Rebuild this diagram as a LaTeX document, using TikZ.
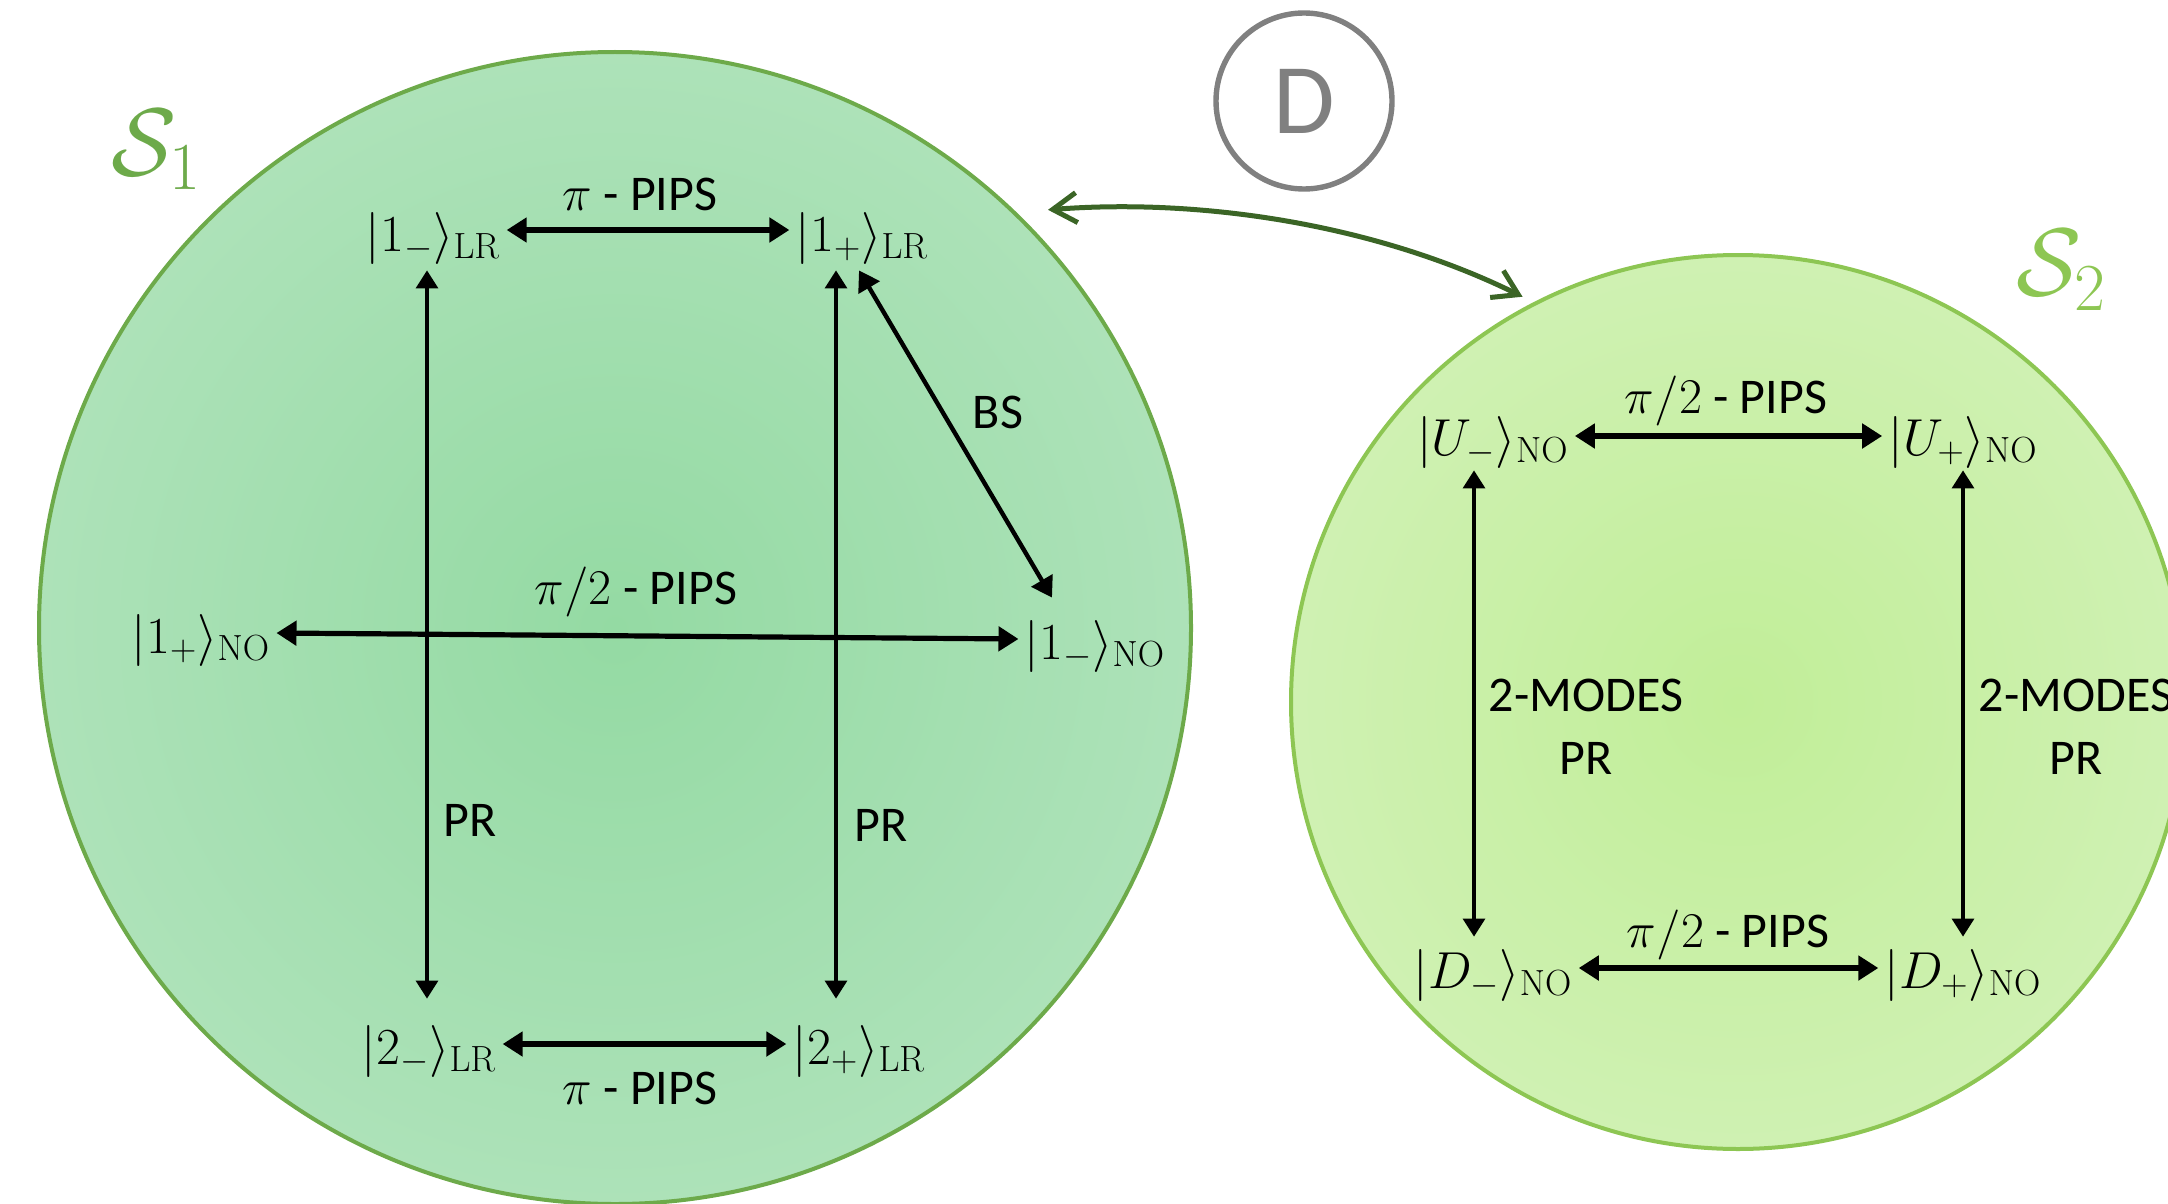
\RequirePackage{fix-cm}
\documentclass[tikz,border=0pt]{standalone}
\usepackage[no-math]{fontspec}
\setmainfont{Carlito}
\usetikzlibrary{arrows.meta}
\definecolor{sOneIn}{HTML}{94DAA3}
\definecolor{sOneOut}{HTML}{C6EACE}
\definecolor{sOneLine}{HTML}{6DAA4A}
\definecolor{sTwoIn}{HTML}{C1EE98}
\definecolor{sTwoOut}{HTML}{DDF4CD}
\definecolor{sTwoLine}{HTML}{8DC653}
\definecolor{linkGreen}{HTML}{3B6526}
\definecolor{dGray}{HTML}{808080}
\pgfdeclareradialshading{shOne}{\pgfpoint{0bp}{0bp}}{color(0bp)=(sOneIn); color(50bp)=(sOneOut)}
\pgfdeclareradialshading{shTwo}{\pgfpoint{0bp}{0bp}}{color(0bp)=(sTwoIn); color(50bp)=(sTwoOut)}
\tikzset{
  state/.style={inner xsep=3pt, inner ysep=0pt, font=\fontsize{26}{30}\selectfont},
  lab/.style={inner sep=0pt, font=\fontsize{25}{31.5}\selectfont},
  slab/.style={inner sep=0pt, font=\fontsize{48}{56}\selectfont},
  harrow/.style={line width=2.6pt, {Triangle[length=10pt,width=12pt]}-{Triangle[length=10pt,width=12pt]}},
  varrow/.style={line width=1.6pt, {Triangle[length=9pt,width=11pt]}-{Triangle[length=9pt,width=11pt]}},
  barrow/.style={line width=2.2pt, {Triangle[length=10pt,width=12pt]}-{Triangle[length=10pt,width=12pt]}},
  link/.style={draw=linkGreen, line width=2.5pt, {Straight Barb[length=12pt,width=15pt]}-{Straight Barb[length=12pt,width=15pt]}},
}
\begin{document}
\begin{tikzpicture}[x=0.5pt,y=-0.5pt]
\useasboundingbox (0,0) rectangle (2168,1204);
% spheres
\node[circle, minimum size=576pt, inner sep=0pt, shading=shOne, draw=sOneLine, line width=2pt] (S1) at (615,628) {};
\node[circle, minimum size=447pt, inner sep=0pt, shading=shTwo, draw=sTwoLine, line width=2pt] (S2) at (1738,702) {};
\node[slab, text=sOneLine] (s1lab) at (156,150) {$\mathcal{S}_1$};
\node[slab, text=sTwoLine] (s2lab) at (2061,270) {$\mathcal{S}_2$};
% D
\node[circle, draw=dGray, line width=2.7pt, minimum size=88pt, inner sep=0pt, text=dGray, font=\fontsize{50}{60}\selectfont] (D) at (1304,101) {D};
\draw[link] ([shift={(44:12pt)}]S1.44) .. controls (1200,198) and (1375,224) .. ([shift={(118:5pt)}]S2.118);
% columns
\coordinate (colA) at (427,0);
\coordinate (colB) at (836,0);
\coordinate (colC) at (1474,0);
\coordinate (colD) at (1963,0);
% S1 states
\node[state] (a1) at (433,238) {$|1_-\rangle_{\mathrm{LR}}$};
\node[state] (a2) at (862,238) {$|1_+\rangle_{\mathrm{LR}}$};
\node[state] (n1) at (201,640) {$|1_+\rangle_{\mathrm{NO}}$};
\node[state] (n2) at (1095,646) {$|1_-\rangle_{\mathrm{NO}}$};
\node[state] (b1) at (429,1051) {$|2_-\rangle_{\mathrm{LR}}$};
\node[state] (b2) at (859,1051) {$|2_+\rangle_{\mathrm{LR}}$};
% S1 arrows
\draw[harrow] ([yshift=4pt]a1.east) -- ([yshift=4pt]a2.west);
\draw[harrow] ([yshift=3.5pt]n1.east) -- ([yshift=3.5pt]n2.west);
\draw[harrow] ([yshift=3.5pt]b1.east) -- ([yshift=3.5pt]b2.west);
\draw[varrow, shorten <=3pt, shorten >=13pt] (a1.south -| colA) -- (b1.north -| colA);
\draw[varrow, shorten <=3pt, shorten >=13pt] (a2.south -| colB) -- (b2.north -| colB);
\draw[barrow] ([xshift=-1.5pt,yshift=-3pt]a2.south) -- ([xshift=-21.5pt,yshift=11pt]n2.north);
% S1 labels
\node[lab] (l1) at (640,194) {$\pi$ - PIPS};
\node[lab] (l2) at (636,592) {$\pi/2$ - PIPS};
\node[lab] (l3) at (640,1088) {$\pi$ - PIPS};
\node[lab] (lbs) at (998,412) {BS};
\node[lab] (lpr1) at (470,820) {PR};
\node[lab] (lpr2) at (881,825) {PR};
% S2 states
\node[state] (u1) at (1493,442) {$|U_-\rangle_{\mathrm{NO}}$};
\node[state] (u2) at (1963,442) {$|U_+\rangle_{\mathrm{NO}}$};
\node[state] (d1) at (1493,975) {$|D_-\rangle_{\mathrm{NO}}$};
\node[state] (d2) at (1963,975) {$|D_+\rangle_{\mathrm{NO}}$};
% S2 arrows
\draw[harrow] ([yshift=3pt]u1.east) -- ([yshift=3pt]u2.west);
\draw[harrow] ([yshift=3.5pt]d1.east) -- ([yshift=3.5pt]d2.west);
\draw[varrow, shorten <=1pt, shorten >=6pt] (u1.south -| colC) -- (d1.north -| colC);
\draw[varrow, shorten <=1pt, shorten >=6pt] (u2.south -| colD) -- (d2.north -| colD);
% S2 labels
\node[lab] (l4) at (1726,401) {$\pi/2$ - PIPS};
\node[lab] (l5) at (1728,935) {$\pi/2$ - PIPS};
\node[lab, align=center] (m1) at (1586,727) {2-MODES\\PR};
\node[lab, align=center] (m2) at (2076,727) {2-MODES\\PR};
\end{tikzpicture}
\end{document}
